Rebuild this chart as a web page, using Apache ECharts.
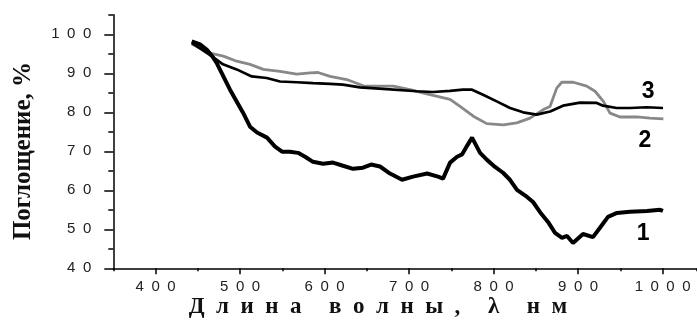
<!DOCTYPE html>
<html>
<head>
<meta charset="utf-8">
<script src="https://cdn.jsdelivr.net/npm/echarts@6/dist/echarts.min.js"></script>
<style>html,body{margin:0;padding:0;background:#fff;}#c{width:697px;height:322px;}</style>
</head>
<body>
<div id="c"></div>
<script>
// wavelength (nm), absorption (%)
const curve1 = [[442.8,98.2],[452.6,97.4],[460.5,96.1],[468,94.1],[472.7,92.5],[488.1,85.8],[503.5,79.9],[511.8,76.3],[520.1,74.8],[531.9,73.5],[541.4,71.2],[549.7,69.9],[559.1,69.9],[568.6,69.6],[576.9,68.6],[586.3,67.3],[598.2,66.8],[610,67.1],[621.8,66.3],[633.7,65.5],[645.5,65.8],[655,66.6],[665.6,66.1],[677.5,64.3],[691.7,62.7],[704.7,63.5],[721.3,64.3],[734.3,63.5],[740.2,63],[748.5,67.1],[756.8,68.6],[762.7,69.2],[768.6,71.4],[774.5,73.5],[784,69.6],[792.2,67.8],[801.7,66],[811.2,64.5],[819.4,62.7],[827.7,60.1],[839.6,58.3],[846.7,57],[855,54.4],[864.4,51.9],[872.7,49.1],[881,47.8],[886.9,48.3],[894,46.5],[905.8,48.8],[917.6,48],[925.9,50.4],[935.4,53.2],[946,54.2],[961.4,54.5],[981.5,54.7],[996.9,55],[1000.4,54.7]];
const curve2 = [[442.8,97.5],[464.4,95.2],[480.2,94.4],[496,93.1],[511.8,92.3],[527.5,91],[547.3,90.5],[567,89.8],[582.8,90.1],[592.2,90.2],[606.5,89.2],[626.2,88.4],[645.9,86.8],[681.4,86.7],[701.1,85.8],[720.9,84.7],[748.5,83.3],[760.3,81.5],[776,79],[791.9,77.1],[811.5,76.8],[827.4,77.3],[843.1,78.5],[858.9,80.7],[866.8,81.5],[874.7,86.2],[880.7,87.7],[894.4,87.7],[910.2,86.7],[920.1,85.4],[929.9,82.8],[937.8,79.8],[949.6,78.8],[969.4,78.8],[985.1,78.5],[1000.9,78.3]];
const curve3 = [[442.8,97.8],[466.4,94.4],[479.8,92.3],[496,91],[513.8,89.2],[531.5,88.8],[547.3,87.9],[567,87.7],[586.3,87.5],[606.5,87.3],[621.8,87.1],[641.9,86.4],[669.1,86],[709,85.4],[728.3,85.2],[748.5,85.5],[763.8,85.8],[774.5,85.8],[787.5,84.5],[803.7,82.8],[819.5,81.1],[834.9,80],[851,79.4],[866.9,80.2],[882.2,81.7],[902.3,82.5],[922.1,82.4],[929.5,81.7],[945.7,81.1],[961.5,81.1],[981.3,81.3],[1000.5,81.1]];
const curveNames = ['1','2','3'];
const labelPos = [[976.9,48.8],[979.2,72.7],[982.8,85.3]];
const xTitleWords = ['Длина', 'волны,', 'λ', 'нм'];
const yTitle = 'Поглощение, %';

const SP = '\u2002';
const spaced = v => String(v).split('').join(SP);
const xTitle = xTitleWords.map(w => w.split('').join('\u2002')).join('\u2002\u2002\u2009');
const chart = echarts.init(document.getElementById('c'), null, {renderer:'canvas'});
const axisLine = {show:true, lineStyle:{color:'#000', width:1.5}};
const lblFont = {fontFamily:'Liberation Sans', fontSize:15, color:'#222'};
function numLabel(name, c){
  return {show:true, position:'inside', formatter:name, fontFamily:'Liberation Sans', fontWeight:'bold', fontSize:23, color:c};
}
chart.setOption({
  animation:false,
  grid:[
    {left:113.3, right:0.6, top:14.8, bottom:53.7},
    {left:155.6, right:34.4, top:14.8, bottom:53.7},
    {left:113.3, right:0.6, top:34.3, bottom:53.7}
  ],
  xAxis:[
    {type:'value', gridIndex:0, min:350, max:1040, interval:50, axisLine:axisLine, splitLine:{show:false},
     axisTick:{show:true, length:3, lineStyle:{color:'#000', width:1.5}}, axisLabel:{show:false}},
    {type:'value', gridIndex:1, min:400, max:1000, interval:100, axisLine:{show:false}, splitLine:{show:false},
     axisTick:{show:true, length:6, lineStyle:{color:'#000', width:1.5}},
     axisLabel:Object.assign({show:true, margin:11, formatter:spaced}, lblFont)},
    {type:'value', gridIndex:2, min:350, max:1040, show:false}
  ],
  yAxis:[
    {type:'value', gridIndex:0, min:40, max:105, interval:5, axisLine:axisLine, splitLine:{show:false},
     axisTick:{show:true, length:5, lineStyle:{color:'#000', width:1.5}}, axisLabel:{show:false}},
    {type:'value', gridIndex:1, min:40, max:105, show:false},
    {type:'value', gridIndex:2, min:40, max:100, interval:10, axisLine:{show:false}, splitLine:{show:false},
     axisTick:{show:true, length:9, lineStyle:{color:'#000', width:1.5}},
     axisLabel:Object.assign({show:true, margin:22, formatter:spaced}, lblFont)}
  ],
  series:[
    {type:'line', xAxisIndex:0, yAxisIndex:0, data:curve2, showSymbol:false, lineStyle:{color:'#888', width:2.8}, z:2,
     markPoint:{symbol:'circle', symbolSize:0, label:numLabel(curveNames[1], '#000'), data:[{coord:labelPos[1]}]}},
    {type:'line', xAxisIndex:0, yAxisIndex:0, data:curve3, showSymbol:false, lineStyle:{color:'#000', width:2.7}, z:3,
     markPoint:{symbol:'circle', symbolSize:0, label:numLabel(curveNames[2], '#000'), data:[{coord:labelPos[2]}]}},
    {type:'line', xAxisIndex:0, yAxisIndex:0, data:curve1, showSymbol:false, lineStyle:{color:'#000', width:4}, z:4,
     markPoint:{symbol:'circle', symbolSize:0, label:numLabel(curveNames[0], '#000'), data:[{coord:labelPos[0]}]}}
  ],
  graphic:[
    {type:'text', position:[378,307], style:{text:xTitle, font:'bold 23px "Liberation Serif"', fill:'#111', textAlign:'center', textVerticalAlign:'middle'}},
    {type:'text', position:[24,151], rotation:Math.PI/2, style:{text:yTitle, font:'bold 25px "Liberation Serif"', fill:'#111', textAlign:'center', textVerticalAlign:'middle'}}
  ]
});
</script>
</body>
</html>
